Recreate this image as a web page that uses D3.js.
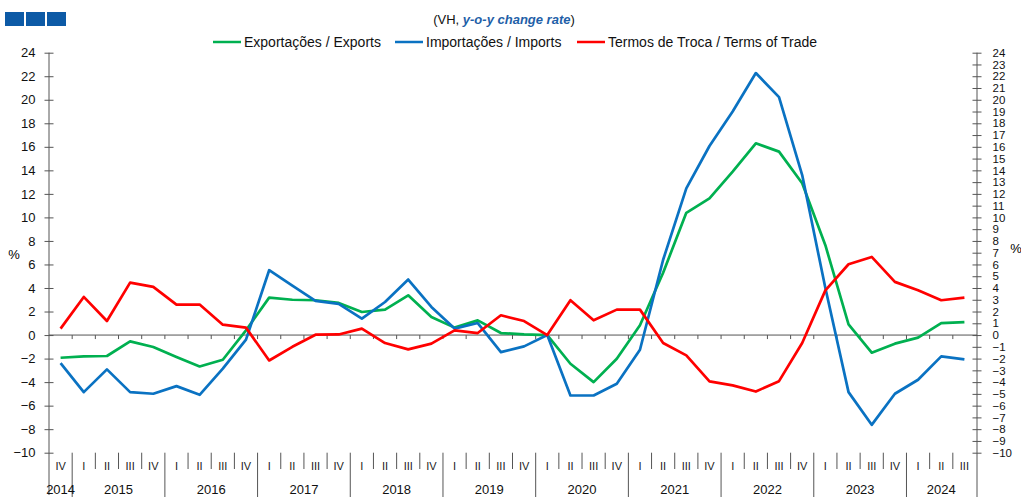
<!DOCTYPE html>
<html>
<head>
<meta charset="utf-8">
<script src="https://cdn.jsdelivr.net/npm/d3@7"></script>
<style>
  body { margin: 0; background: #fff; }
  svg { font-family: "Liberation Sans", Arial, sans-serif; }
</style>
</head>
<body>
<svg id="chart" width="1021" height="497"></svg>
<script>
// Quarters shown on the x axis (2014 IV .. 2024 III)
const periods = [
  '2014 IV',
  '2015 I', '2015 II', '2015 III', '2015 IV',
  '2016 I', '2016 II', '2016 III', '2016 IV',
  '2017 I', '2017 II', '2017 III', '2017 IV',
  '2018 I', '2018 II', '2018 III', '2018 IV',
  '2019 I', '2019 II', '2019 III', '2019 IV',
  '2020 I', '2020 II', '2020 III', '2020 IV',
  '2021 I', '2021 II', '2021 III', '2021 IV',
  '2022 I', '2022 II', '2022 III', '2022 IV',
  '2023 I', '2023 II', '2023 III', '2023 IV',
  '2024 I', '2024 II', '2024 III',
];

// y-o-y change rate, %
const exportsVH = [-1.93, -1.81, -1.78, -0.54, -1.02, -1.87, -2.67, -2.1, 0.4, 3.18,
  3.0, 2.96, 2.73, 1.96, 2.16, 3.38, 1.53, 0.63, 1.25, 0.17,
  0.06, 0, -2.44, -4.0, -2.01, 0.83, 5.3, 10.39, 11.62, 13.9,
  16.3, 15.59, 12.9, 7.64, 0.91, -1.5, -0.73, -0.22, 1.02, 1.1];

const importsVH = [-2.38, -4.85, -2.92, -4.85, -4.99, -4.34, -5.08, -2.86, -0.39, 5.51,
  4.2, 2.9, 2.65, 1.4, 2.81, 4.72, 2.39, 0.55, 1.02, -1.45,
  -0.96, 0, -5.14, -5.14, -4.14, -1.25, 6.4, 12.47, 16.07, 19.0,
  22.27, 20.22, 13.6, 4.0, -4.85, -7.63, -4.99, -3.8, -1.81, -2.07];

const termsOfTradeVH = [0.55, 3.24, 1.19, 4.46, 4.09, 2.59, 2.59, 0.88, 0.63, -2.16,
  -1.0, 0.03, 0.05, 0.55, -0.68, -1.22, -0.73, 0.4, 0.17, 1.68,
  1.19, 0, 2.96, 1.25, 2.16, 2.16, -0.68, -1.73, -3.94, -4.28,
  -4.8, -3.92, -0.68, 3.8, 6.02, 6.64, 4.52, 3.8, 2.96, 3.18];

const seriesNames = ['Exportações / Exports', 'Importações / Imports', 'Termos de Troca / Terms of Trade'];
const seriesColors = ['#00b050', '#0a72c2', '#ff0000'];

const leftTicks = d3.range(-10, 25, 2);
const rightTicks = d3.range(-10, 25, 1);

const svg = d3.select('#chart');

const x = d3.scaleBand(periods, [49, 976]);
const y = d3.scaleLinear([-10, 24], [452.7, 52.7]);
const axisColor = '#555';

// logo squares top-left
svg.append('g')
  .selectAll('rect')
  .data([5, 26, 47])
  .join('rect')
    .attr('x', (d) => d)
    .attr('y', 12)
    .attr('width', 19)
    .attr('height', 14)
    .attr('fill', '#0d5aa6');

// subtitle
const title = svg.append('text')
  .attr('x', 504)
  .attr('y', 24)
  .attr('text-anchor', 'middle')
  .style('font-size', '13px')
  .attr('fill', '#111');
title.append('tspan').text('(VH, ');
title.append('tspan')
  .text('y-o-y change rate')
  .attr('fill', '#1f5fa8')
  .style('font-weight', 'bold')
  .style('font-style', 'italic');
title.append('tspan').text(')');

// legend
const legendX = [213, 395, 577];
const legend = svg.append('g')
  .selectAll('g')
  .data(seriesNames)
  .join('g')
    .attr('transform', (d, i) => `translate(${legendX[i]}, 42)`);
legend.append('line')
  .attr('x1', 0)
  .attr('x2', 28)
  .attr('stroke', (d, i) => seriesColors[i])
  .attr('stroke-width', 2.5);
legend.append('text')
  .attr('x', 31)
  .attr('dy', '0.35em')
  .style('font-size', '14px')
  .attr('fill', '#111')
  .text((d) => d);

// left axis
const leftAxis = svg.append('g')
  .attr('transform', 'translate(49,0)')
  .call(d3.axisLeft(y).tickValues(leftTicks).tickSize(4.5).tickPadding(9));
leftAxis.select('.domain').remove();
leftAxis.selectAll('.tick line').attr('x1', -4.5).attr('x2', 4.5).attr('stroke', axisColor);
leftAxis.selectAll('.tick text')
  .style('font-size', '13px')
  .style('font-family', '"Liberation Sans", Arial, sans-serif')
  .attr('fill', '#111');

// right axis
const rightAxis = svg.append('g')
  .attr('transform', 'translate(977,0)')
  .call(d3.axisRight(y).tickValues(rightTicks).tickSize(4.5).tickPadding(11));
rightAxis.select('.domain').remove();
rightAxis.selectAll('.tick line').attr('x1', -4.5).attr('x2', 4.5).attr('stroke', axisColor);
rightAxis.selectAll('.tick text')
  .style('font-size', '11.5px')
  .style('font-family', '"Liberation Sans", Arial, sans-serif')
  .attr('fill', '#111');

// vertical axis lines run down through the category area
svg.append('line')
  .attr('x1', 49).attr('x2', 49)
  .attr('y1', y(24)).attr('y2', 495)
  .attr('stroke', axisColor);
svg.append('line')
  .attr('x1', 977).attr('x2', 977)
  .attr('y1', y(24)).attr('y2', 497)
  .attr('stroke', axisColor);

svg.append('text').attr('x', 14).attr('y', 254).attr('dy', '0.35em')
  .attr('text-anchor', 'middle').style('font-size', '13px').text('%');
svg.append('text').attr('x', 1016).attr('y', 248).attr('dy', '0.35em')
  .attr('text-anchor', 'middle').style('font-size', '13px').text('%');

// zero line with small ticks at each quarter boundary
svg.append('line')
  .attr('x1', 49).attr('x2', 977)
  .attr('y1', y(0)).attr('y2', y(0))
  .attr('stroke', axisColor);
svg.append('g')
  .selectAll('line')
  .data(periods.slice(1))
  .join('line')
    .attr('x1', (d) => x(d)).attr('x2', (d) => x(d))
    .attr('y1', y(0)).attr('y2', y(0) + 4)
    .attr('stroke', axisColor);

// category axis: quarter labels, separators, year labels
const quarterOf = (p) => p.split(' ')[1];
const yearOf = (p) => p.split(' ')[0];

const cat = svg.append('g');
cat.selectAll('line')
  .data(periods.slice(1))
  .join('line')
    .attr('x1', (d) => x(d)).attr('x2', (d) => x(d))
    .attr('y1', y(-10))
    .attr('y2', (d) => quarterOf(d) === 'I' ? 497 : 469)
    .attr('stroke', axisColor);
cat.selectAll('text.q')
  .data(periods)
  .join('text')
    .attr('class', 'q')
    .attr('x', (d) => x(d) + x.bandwidth() / 2)
    .attr('y', 466)
    .attr('dy', '0.35em')
    .attr('text-anchor', 'middle')
    .style('font-size', '11px')
    .attr('fill', '#222')
    .text(quarterOf);

const years = d3.groups(periods, yearOf);
cat.selectAll('text.yr')
  .data(years)
  .join('text')
    .attr('class', 'yr')
    .attr('x', ([, ps]) => (x(ps[0]) + x(ps[ps.length - 1]) + x.bandwidth()) / 2)
    .attr('y', 489)
    .attr('dy', '0.35em')
    .attr('text-anchor', 'middle')
    .style('font-size', '13px')
    .attr('fill', '#111')
    .text(([yr]) => yr);

// series lines
const line = d3.line()
  .x((d, i) => x(periods[i]) + x.bandwidth() / 2)
  .y((d) => y(d));

svg.append('g')
  .selectAll('path')
  .data([exportsVH, importsVH, termsOfTradeVH])
  .join('path')
    .attr('fill', 'none')
    .attr('stroke', (d, i) => seriesColors[i])
    .attr('stroke-width', 2.7)
    .attr('stroke-linejoin', 'round')
    .attr('d', line);
</script>
</body>
</html>
